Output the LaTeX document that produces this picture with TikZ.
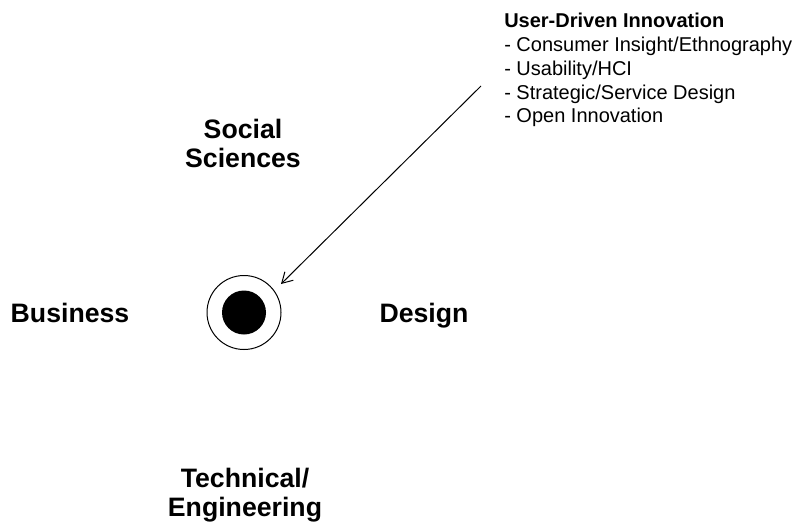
\documentclass[tikz,border=0pt]{standalone}
\usepackage{fontspec}
\setmainfont{Liberation Sans}
\usetikzlibrary{arrows.meta}
\begin{document}
\begin{tikzpicture}[x = 0.75pt, y = -0.75pt,
   field/.style = {font=\bfseries\fontsize{20}{22}\selectfont, align=center, inner sep=0},
   list/.style = {font=\fontsize{15}{17.9}\selectfont, align=left, inner sep=0, anchor=north west}]
   \useasboundingbox (0,0) rectangle (804,525);
   \node[field, anchor=north] (social) at (243,119) {Social\\Sciences};
   \node[field, anchor=base] (business) at (70,322) {Business};
   \node[field, anchor=base] (design) at (424,322) {Design};
   \node[field, anchor=north] (technical) at (245,468) {Technical/\\Engineering};
   \node[circle, draw, line width=0.75pt, minimum size=55.5pt, inner sep=0] (core) at (244,312.5) {};
   \node[circle, fill, minimum size=33pt, inner sep=0] (dot) at (core) {};
   \node[list] (udi) at (504,12.7) {\textbf{User-Driven Innovation}\\- Consumer Insight/Ethnography\\- Usability/HCI\\- Strategic/Service Design\\- Open Innovation};
   \coordinate (src) at (481,86);
   \coordinate (tip) at (281,284);
   \draw[-{Straight Barb[length=7.8pt, width=9pt]}, line width=0.75pt] (src) -- (tip);
\end{tikzpicture}
\end{document}
